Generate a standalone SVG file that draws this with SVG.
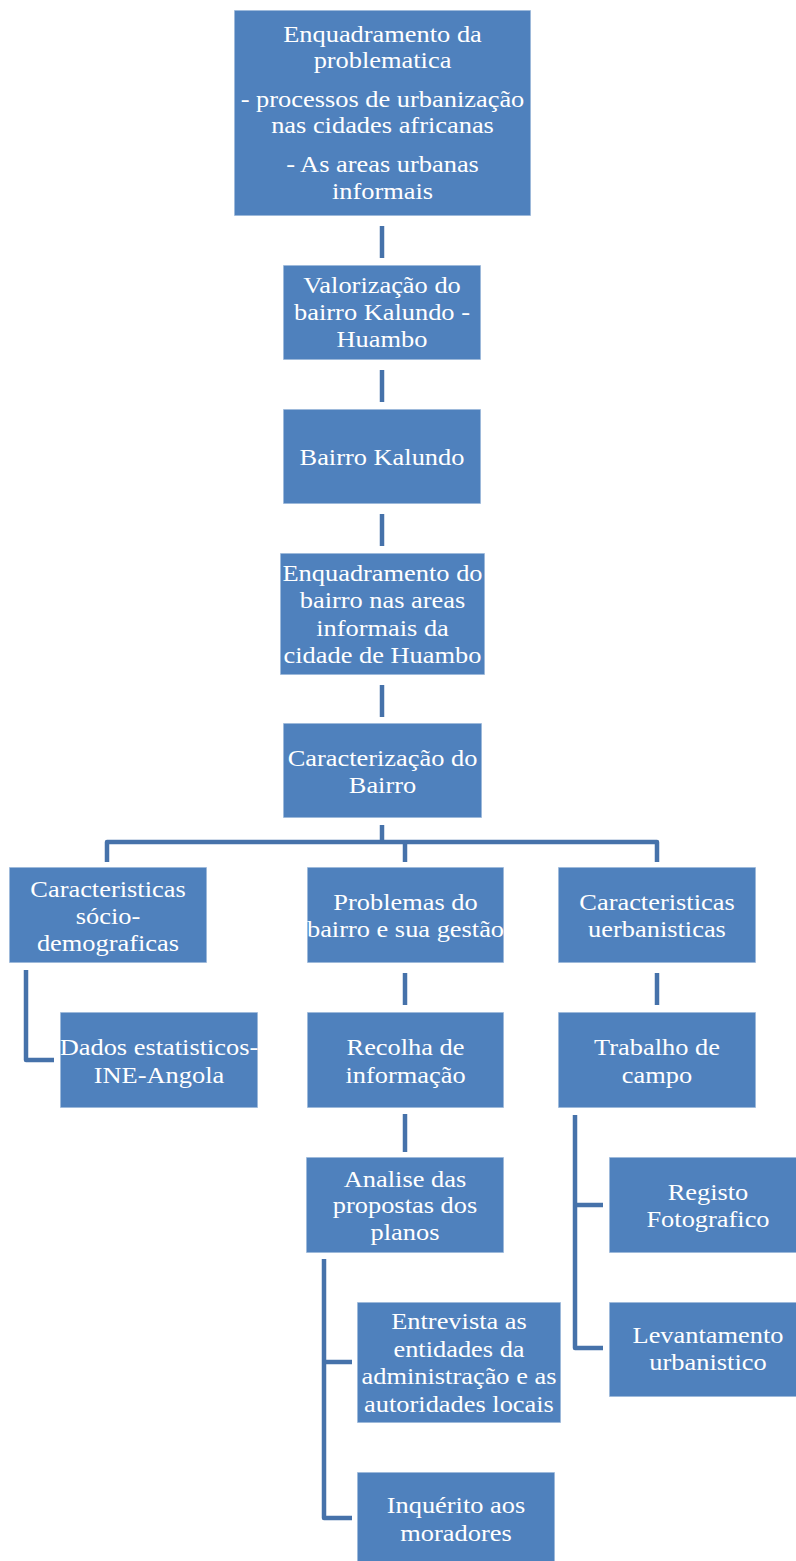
<svg xmlns="http://www.w3.org/2000/svg" width="796" height="1561" viewBox="0 0 796 1561">
<style>
.box{fill:#4F81BD;stroke:#ffffff;stroke-opacity:0.6;stroke-width:1.5}
.t{font-family:"Liberation Serif","Times New Roman",serif;font-size:24px;fill:#ffffff;text-anchor:middle}
.c{fill:none;stroke:#4672AA;stroke-width:4.5;stroke-linejoin:round}
</style>
<rect width="796" height="1561" fill="#ffffff"/>
<g id="connectors">
<path class="c" d="M382,226V258"/>
<path class="c" d="M382,370V402"/>
<path class="c" d="M382,514V546"/>
<path class="c" d="M382,685V717"/>
<path class="c" d="M382,825V842"/>
<path class="c" d="M107,862V842H657V862"/>
<path class="c" d="M405,842V862"/>
<path class="c" d="M26,970V1060H54"/>
<path class="c" d="M405,973V1005"/>
<path class="c" d="M657,973V1005"/>
<path class="c" d="M405,1114V1152"/>
<path class="c" d="M324,1259V1518H352"/>
<path class="c" d="M324,1362H352"/>
<path class="c" d="M575,1115V1348H603"/>
<path class="c" d="M575,1205H603"/>
</g>
<g id="n1">
<rect class="box" x="234" y="10" width="297" height="206"/>
<text class="t" transform="translate(382.5 0) scale(1.1 1)"><tspan x="0" y="42">Enquadramento da</tspan><tspan x="0" y="68">problematica</tspan><tspan x="0" y="107">- processos de urbanização</tspan><tspan x="0" y="133">nas cidades africanas</tspan><tspan x="0" y="172">- As areas urbanas</tspan><tspan x="0" y="199">informais</tspan></text>
</g>
<g id="n2">
<rect class="box" x="283" y="265" width="198" height="95"/>
<text class="t" transform="translate(382 0) scale(1.1 1)"><tspan x="0" y="293">Valorização do</tspan><tspan x="0" y="320">bairro Kalundo -</tspan><tspan x="0" y="347">Huambo</tspan></text>
</g>
<g id="n3">
<rect class="box" x="283" y="409" width="198" height="95"/>
<text class="t" transform="translate(382 0) scale(1.1 1)"><tspan x="0" y="465">Bairro Kalundo</tspan></text>
</g>
<g id="n4">
<rect class="box" x="280" y="553" width="205" height="122"/>
<text class="t" transform="translate(382.5 0) scale(1.1 1)"><tspan x="0" y="581">Enquadramento do</tspan><tspan x="0" y="608">bairro nas areas</tspan><tspan x="0" y="636">informais da</tspan><tspan x="0" y="663">cidade de Huambo</tspan></text>
</g>
<g id="n5">
<rect class="box" x="283" y="723" width="199" height="95"/>
<text class="t" transform="translate(382.5 0) scale(1.1 1)"><tspan x="0" y="766">Caracterização do</tspan><tspan x="0" y="793">Bairro</tspan></text>
</g>
<g id="n6">
<rect class="box" x="9" y="867" width="198" height="96"/>
<text class="t" transform="translate(108 0) scale(1.1 1)"><tspan x="0" y="897">Caracteristicas</tspan><tspan x="0" y="924">sócio-</tspan><tspan x="0" y="951">demograficas</tspan></text>
</g>
<g id="n7">
<rect class="box" x="307" y="867" width="197" height="96"/>
<text class="t" transform="translate(405.5 0) scale(1.1 1)"><tspan x="0" y="910">Problemas do</tspan><tspan x="0" y="937">bairro e sua gestão</tspan></text>
</g>
<g id="n8">
<rect class="box" x="558" y="867" width="198" height="96"/>
<text class="t" transform="translate(657 0) scale(1.1 1)"><tspan x="0" y="910">Caracteristicas</tspan><tspan x="0" y="937">uerbanisticas</tspan></text>
</g>
<g id="n9">
<rect class="box" x="60" y="1012" width="198" height="96"/>
<text class="t" transform="translate(159 0) scale(1.1 1)"><tspan x="0" y="1055">Dados estatisticos-</tspan><tspan x="0" y="1083">INE-Angola</tspan></text>
</g>
<g id="n10">
<rect class="box" x="307" y="1012" width="197" height="96"/>
<text class="t" transform="translate(405.5 0) scale(1.1 1)"><tspan x="0" y="1055">Recolha de</tspan><tspan x="0" y="1083">informação</tspan></text>
</g>
<g id="n11">
<rect class="box" x="558" y="1012" width="198" height="96"/>
<text class="t" transform="translate(657 0) scale(1.1 1)"><tspan x="0" y="1055">Trabalho de</tspan><tspan x="0" y="1083">campo</tspan></text>
</g>
<g id="n12">
<rect class="box" x="306" y="1157" width="198" height="96"/>
<text class="t" transform="translate(405 0) scale(1.1 1)"><tspan x="0" y="1187">Analise das</tspan><tspan x="0" y="1213">propostas dos</tspan><tspan x="0" y="1240">planos</tspan></text>
</g>
<g id="n13">
<rect class="box" x="609" y="1157" width="198" height="96"/>
<text class="t" transform="translate(708 0) scale(1.1 1)"><tspan x="0" y="1200">Registo</tspan><tspan x="0" y="1227">Fotografico</tspan></text>
</g>
<g id="n14">
<rect class="box" x="357" y="1302" width="204" height="121"/>
<text class="t" transform="translate(459 0) scale(1.1 1)"><tspan x="0" y="1329">Entrevista as</tspan><tspan x="0" y="1357">entidades da</tspan><tspan x="0" y="1384">administração e as</tspan><tspan x="0" y="1412">autoridades locais</tspan></text>
</g>
<g id="n15">
<rect class="box" x="609" y="1302" width="198" height="95"/>
<text class="t" transform="translate(708 0) scale(1.1 1)"><tspan x="0" y="1343">Levantamento</tspan><tspan x="0" y="1370">urbanistico</tspan></text>
</g>
<g id="n16">
<rect class="box" x="357" y="1472" width="198" height="96"/>
<text class="t" transform="translate(456 0) scale(1.1 1)"><tspan x="0" y="1513">Inquérito aos</tspan><tspan x="0" y="1541">moradores</tspan></text>
</g>
</svg>
